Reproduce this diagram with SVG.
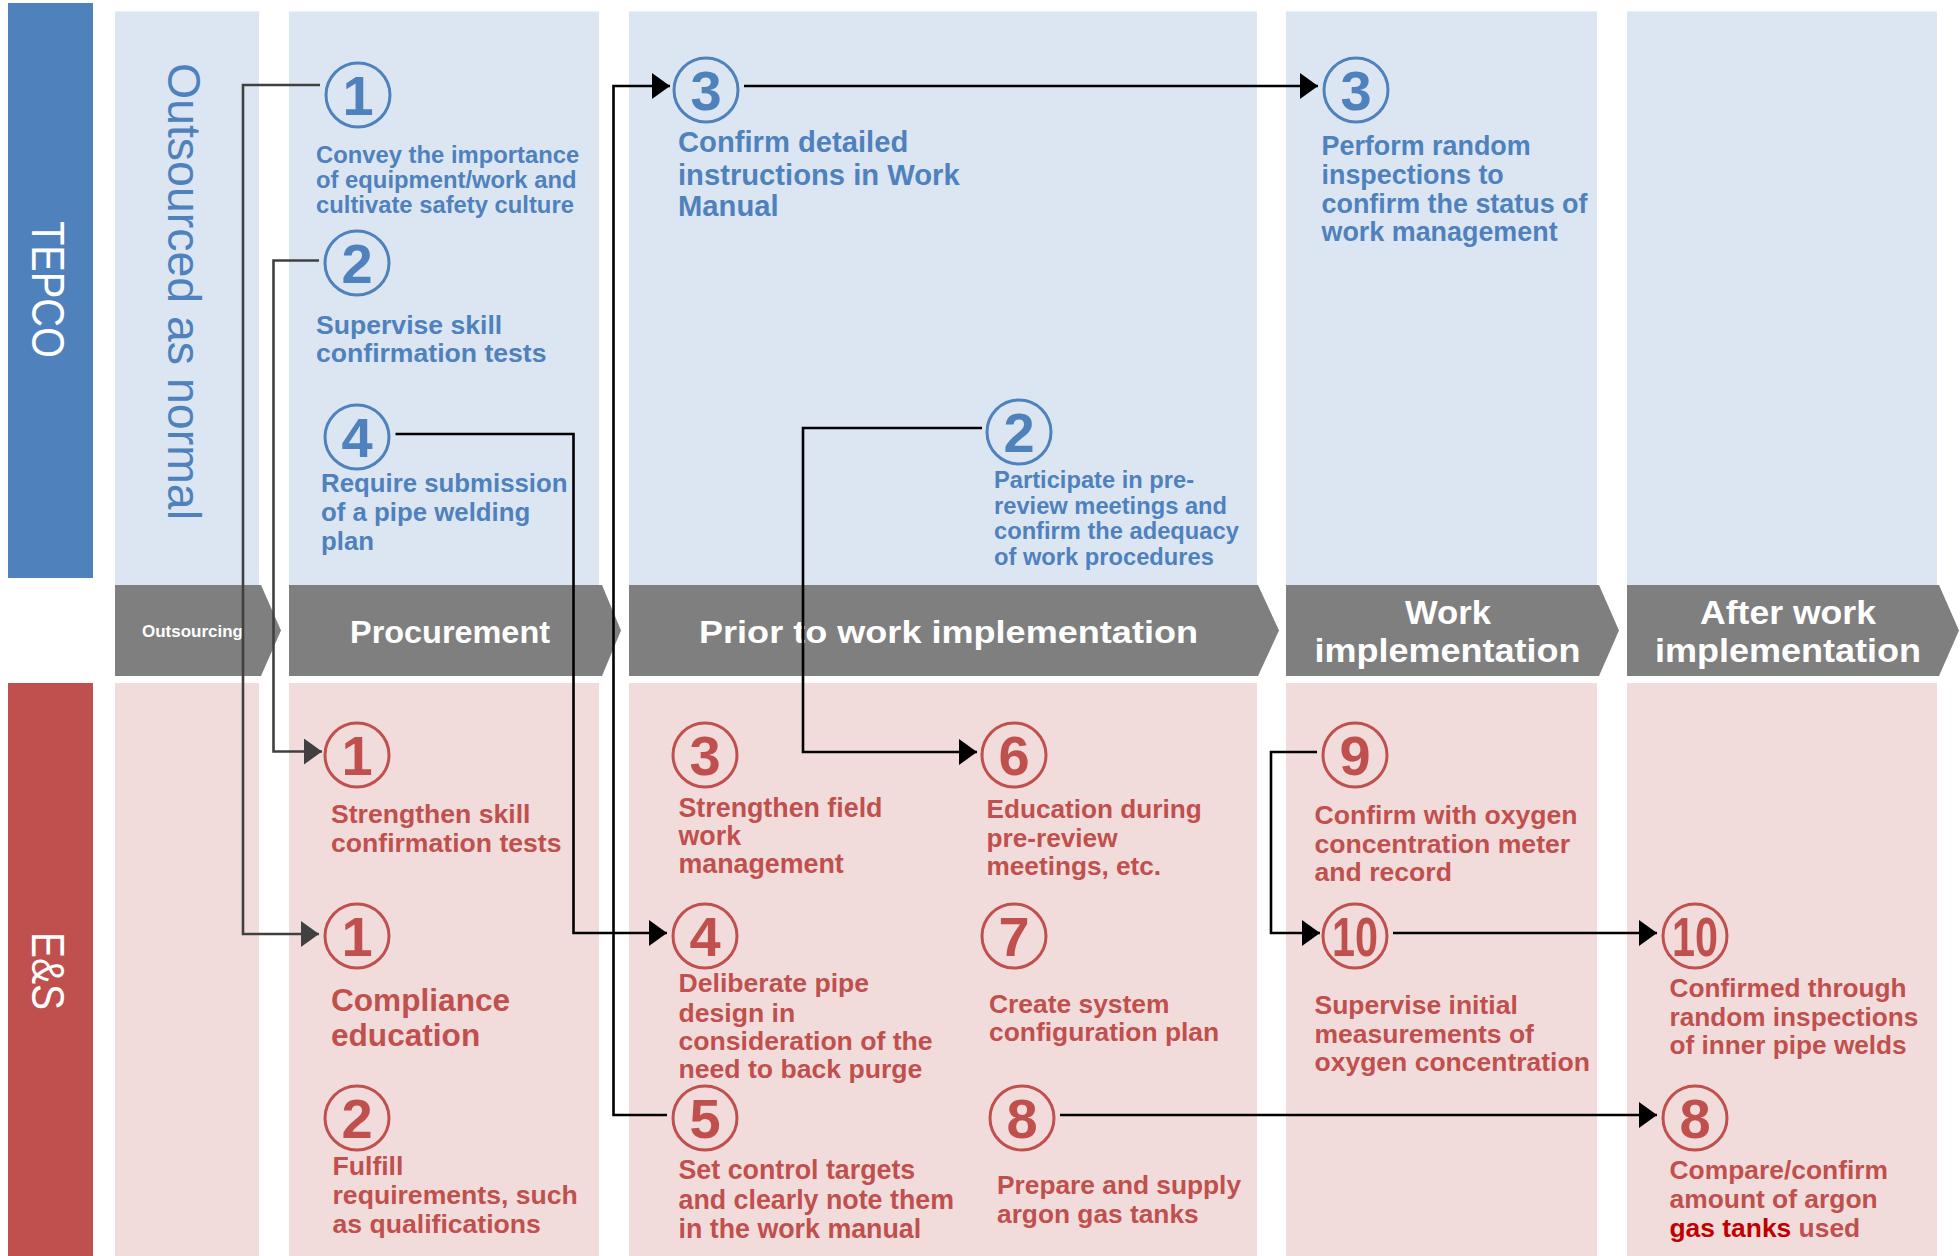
<svg xmlns="http://www.w3.org/2000/svg" width="1960" height="1256" viewBox="0 0 1960 1256">
<style>
.top{fill:#DCE6F2}
.bot{fill:#F2DCDB}
.phase{fill:#7F7F7F}
.t{font-family:"Liberation Sans",Arial,sans-serif;font-weight:bold}
.tb{fill:#4F81BD}
.tr{fill:#C0504D}
.ph{font-family:"Liberation Sans",Arial,sans-serif;font-weight:bold;fill:#FFFFFF}
.lane{font-family:"Liberation Sans",Arial,sans-serif;fill:#FFFFFF;font-size:46px}
.cb{fill:none;stroke:#4F81BD;stroke-width:3}
.cr{fill:none;stroke:#C0504D;stroke-width:3}
.n{font-family:"Liberation Sans",Arial,sans-serif;font-weight:bold;font-size:56px;text-anchor:middle}
.conn{fill:none;stroke:#000000;stroke-width:2.6}
.conng{fill:none;stroke:#404040;stroke-width:2.6}
</style>
<defs>
<marker id="ah" markerUnits="userSpaceOnUse" markerWidth="18" markerHeight="26" refX="18" refY="13" orient="auto">
<path d="M0,0 L18,13 L0,26 Z" fill="#000000"/>
</marker>
<marker id="ahg" markerUnits="userSpaceOnUse" markerWidth="18" markerHeight="26" refX="18" refY="13" orient="auto">
<path d="M0,0 L18,13 L0,26 Z" fill="#404040"/>
</marker>
</defs>
<rect width="1960" height="1256" fill="#FFFFFF"/>

<g id="lanes">
<rect x="8" y="3" width="85" height="575" fill="#4F81BD"/>
<text class="lane" transform="translate(32,221) rotate(90)" textLength="137" lengthAdjust="spacingAndGlyphs">TEPCO</text>
<rect x="8" y="683" width="85" height="573" fill="#C0504D"/>
<text class="lane" transform="translate(32,932) rotate(90)" textLength="78" lengthAdjust="spacingAndGlyphs">E&amp;S</text>
</g>

<g id="columns">
<rect class="top" x="115" y="11.5" width="144" height="573.5"/>
<rect class="top" x="289" y="11.5" width="310" height="573.5"/>
<rect class="top" x="629" y="11.5" width="628" height="573.5"/>
<rect class="top" x="1286" y="11.5" width="311" height="573.5"/>
<rect class="top" x="1627" y="11.5" width="310" height="573.5"/>
<rect class="bot" x="115" y="683" width="144" height="573"/>
<rect class="bot" x="289" y="683" width="310" height="573"/>
<rect class="bot" x="629" y="683" width="628" height="573"/>
<rect class="bot" x="1286" y="683" width="311" height="573"/>
<rect class="bot" x="1627" y="683" width="310" height="573"/>
<text transform="translate(168,63) rotate(90)" font-family="Liberation Sans, Arial, sans-serif" font-size="47" fill="#4F81BD" textLength="457" lengthAdjust="spacingAndGlyphs">Outsourced as normal</text>
</g>

<g id="phases">
<polygon class="phase" points="115,585 261,585 281,630.5 261,676 115,676"/>
<polygon class="phase" points="289,585 602,585 621,630.5 602,676 289,676"/>
<polygon class="phase" points="629,585 1258,585 1279,630.5 1258,676 629,676"/>
<polygon class="phase" points="1286,585 1599,585 1619,630.5 1599,676 1286,676"/>
<polygon class="phase" points="1627,585 1939,585 1959,630.5 1939,676 1627,676"/>
<text class="ph" x="142" y="637" font-size="17" textLength="101" lengthAdjust="spacingAndGlyphs">Outsourcing</text>
<text class="ph" x="350" y="643" font-size="32" textLength="200" lengthAdjust="spacingAndGlyphs">Procurement</text>
<text class="ph" x="699" y="643" font-size="32" textLength="499" lengthAdjust="spacingAndGlyphs">Prior to work implementation</text>
<text class="ph" x="1405" y="624" font-size="33" textLength="86" lengthAdjust="spacingAndGlyphs">Work</text>
<text class="ph" x="1314.5" y="662" font-size="33" textLength="266" lengthAdjust="spacingAndGlyphs">implementation</text>
<text class="ph" x="1700" y="624" font-size="33" textLength="176" lengthAdjust="spacingAndGlyphs">After work</text>
<text class="ph" x="1655" y="662" font-size="33" textLength="266" lengthAdjust="spacingAndGlyphs">implementation</text>
</g>

<g id="connectors">
<path class="conng" d="M320,85 H243 V934 H319" marker-end="url(#ahg)"/>
<path class="conng" d="M319,260.5 H273.5 V751.5 H322" marker-end="url(#ahg)"/>
<path class="conn" d="M395.5,434 H573.5 V933 H667" marker-end="url(#ah)"/>
<path class="conn" d="M667,1115 H613.5 V86 H670" marker-end="url(#ah)"/>
<path class="conn" d="M744,86 H1318" marker-end="url(#ah)"/>
<path class="conn" d="M982,428 H803 V752 H977" marker-end="url(#ah)"/>
<path class="conn" d="M1317,752 H1271 V933 H1320" marker-end="url(#ah)"/>
<path class="conn" d="M1393,933 H1657" marker-end="url(#ah)"/>
<path class="conn" d="M1060,1115 H1657" marker-end="url(#ah)"/>
</g>

<g id="tepco-1">
<circle class="cb" cx="358" cy="95" r="32"/>
<text class="n tb" x="358" y="115">1</text>
<text class="t tb" font-size="23.8"><tspan x="316" y="162.5">Convey the importance</tspan><tspan x="316" y="187.5">of equipment/work and</tspan><tspan x="316" y="212.5">cultivate safety culture</tspan></text>
</g>
<g id="tepco-2">
<circle class="cb" cx="357" cy="263" r="32"/>
<text class="n tb" x="357" y="283">2</text>
<text class="t tb" font-size="26.6"><tspan x="316" y="333.5">Supervise skill</tspan><tspan x="316" y="361.5">confirmation tests</tspan></text>
</g>
<g id="tepco-4">
<circle class="cb" cx="357" cy="437" r="32"/>
<text class="n tb" x="357" y="457">4</text>
<text class="t tb" font-size="25.8"><tspan x="321" y="492">Require submission</tspan><tspan x="321" y="521">of a pipe welding</tspan><tspan x="321" y="549.5">plan</tspan></text>
</g>
<g id="tepco-3a">
<circle class="cb" cx="706" cy="90" r="32"/>
<text class="n tb" x="706" y="110">3</text>
<text class="t tb" font-size="29.2"><tspan x="678" y="152">Confirm detailed</tspan><tspan x="678" y="184.5">instructions in Work</tspan><tspan x="678" y="216">Manual</tspan></text>
</g>
<g id="tepco-2b">
<circle class="cb" cx="1019" cy="432" r="32"/>
<text class="n tb" x="1019" y="452">2</text>
<text class="t tb" font-size="23.7"><tspan x="994" y="488">Participate in pre-</tspan><tspan x="994" y="513.5">review meetings and</tspan><tspan x="994" y="539">confirm the adequacy</tspan><tspan x="994" y="564.5">of work procedures</tspan></text>
</g>
<g id="tepco-3b">
<circle class="cb" cx="1356" cy="90" r="32"/>
<text class="n tb" x="1356" y="110">3</text>
<text class="t tb" font-size="26.9"><tspan x="1321.5" y="155">Perform random</tspan><tspan x="1321.5" y="183.5">inspections to</tspan><tspan x="1321.5" y="212.5">confirm the status of</tspan><tspan x="1321.5" y="240.5">work management</tspan></text>
</g>

<g id="es-1a">
<circle class="cr" cx="357" cy="755" r="32"/>
<text class="n tr" x="357" y="775">1</text>
<text class="t tr" font-size="26.6"><tspan x="331" y="823">Strengthen skill</tspan><tspan x="331" y="851.5">confirmation tests</tspan></text>
</g>
<g id="es-1b">
<circle class="cr" cx="357" cy="936" r="32"/>
<text class="n tr" x="357" y="956">1</text>
<text class="t tr" font-size="31.6"><tspan x="331" y="1010.5">Compliance</tspan><tspan x="331" y="1046">education</tspan></text>
</g>
<g id="es-2">
<circle class="cr" cx="357" cy="1118" r="32"/>
<text class="n tr" x="357" y="1138">2</text>
<text class="t tr" font-size="26.6"><tspan x="332.5" y="1174.5">Fulfill</tspan><tspan x="332.5" y="1203.5">requirements, such</tspan><tspan x="332.5" y="1232.5">as qualifications</tspan></text>
</g>
<g id="es-3">
<circle class="cr" cx="705" cy="755" r="32"/>
<text class="n tr" x="705" y="775">3</text>
<text class="t tr" font-size="26.8"><tspan x="678.5" y="816.5">Strengthen field</tspan><tspan x="678.5" y="844.5">work</tspan><tspan x="678.5" y="873">management</tspan></text>
</g>
<g id="es-4">
<circle class="cr" cx="705" cy="936" r="32"/>
<text class="n tr" x="705" y="956">4</text>
<text class="t tr" font-size="26.6"><tspan x="678.5" y="991.5">Deliberate pipe</tspan><tspan x="678.5" y="1021.5">design in</tspan><tspan x="678.5" y="1049.5">consideration of the</tspan><tspan x="678.5" y="1078">need to back purge</tspan></text>
</g>
<g id="es-5">
<circle class="cr" cx="705" cy="1118" r="32"/>
<text class="n tr" x="705" y="1138">5</text>
<text class="t tr" font-size="26.8"><tspan x="678.5" y="1179">Set control targets</tspan><tspan x="678.5" y="1209">and clearly note them</tspan><tspan x="678.5" y="1238">in the work manual</tspan></text>
</g>
<g id="es-6">
<circle class="cr" cx="1014" cy="755" r="32"/>
<text class="n tr" x="1014" y="775">6</text>
<text class="t tr" font-size="26.2"><tspan x="986.5" y="817.5">Education during</tspan><tspan x="986.5" y="846.5">pre-review</tspan><tspan x="986.5" y="875">meetings, etc.</tspan></text>
</g>
<g id="es-7">
<circle class="cr" cx="1014" cy="936" r="32"/>
<text class="n tr" x="1014" y="956">7</text>
<text class="t tr" font-size="26.4"><tspan x="989" y="1012.5">Create system</tspan><tspan x="989" y="1040.5">configuration plan</tspan></text>
</g>
<g id="es-8">
<circle class="cr" cx="1022" cy="1118" r="32"/>
<text class="n tr" x="1022" y="1138">8</text>
<text class="t tr" font-size="26.3"><tspan x="997" y="1194">Prepare and supply</tspan><tspan x="997" y="1222.5">argon gas tanks</tspan></text>
</g>
<g id="es-9">
<circle class="cr" cx="1355" cy="755" r="32"/>
<text class="n tr" x="1355" y="775">9</text>
<text class="t tr" font-size="26.6"><tspan x="1314.5" y="824">Confirm with oxygen</tspan><tspan x="1314.5" y="853">concentration meter</tspan><tspan x="1314.5" y="881">and record</tspan></text>
</g>
<g id="es-10">
<circle class="cr" cx="1355" cy="936" r="32"/>
<text class="n tr" x="1355" y="956" textLength="46" lengthAdjust="spacingAndGlyphs">10</text>
<text class="t tr" font-size="26.5"><tspan x="1314.5" y="1013.5">Supervise initial</tspan><tspan x="1314.5" y="1042.5">measurements of</tspan><tspan x="1314.5" y="1070.5">oxygen concentration</tspan></text>
</g>
<g id="es-10b">
<circle class="cr" cx="1695" cy="936" r="32"/>
<text class="n tr" x="1695" y="956" textLength="46" lengthAdjust="spacingAndGlyphs">10</text>
<text class="t tr" font-size="26.2"><tspan x="1669.5" y="997">Confirmed through</tspan><tspan x="1669.5" y="1026">random inspections</tspan><tspan x="1669.5" y="1054">of inner pipe welds</tspan></text>
</g>
<g id="es-8b">
<circle class="cr" cx="1695" cy="1118" r="32"/>
<text class="n tr" x="1695" y="1138">8</text>
<text class="t tr" font-size="26.4"><tspan x="1669.5" y="1179">Compare/confirm</tspan><tspan x="1669.5" y="1208">amount of argon</tspan><tspan x="1669.5" y="1236.5"><tspan fill="#C00000">gas tanks</tspan> used</tspan></text>
</g>
</svg>
